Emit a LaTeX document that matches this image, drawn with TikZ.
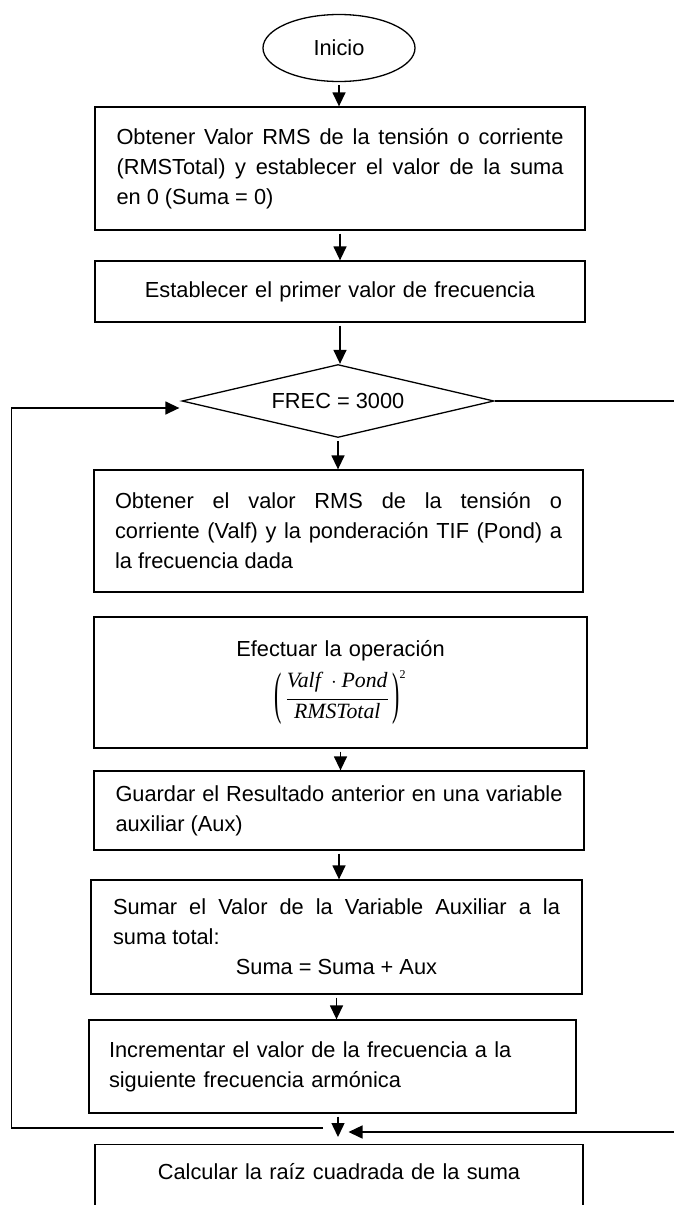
\documentclass[tikz,border=0pt]{standalone}
\usepackage{graphicx}
\usepackage[no-math]{fontspec}
\setmainfont{Liberation Sans}
\newfontfamily\timesfont{Liberation Serif}
\usetikzlibrary{shapes.geometric,arrows.meta,calc}
\hyphenpenalty=10000
\newcommand{\tvar}[1]{\mbox{\timesfont\itshape #1}}
\newcommand{\paren}[1]{\vcenter{\hbox{\scalebox{1}[2.63]{\timesfont #1}}}}

\begin{document}
\begin{tikzpicture}[x=1pt,y=-1pt,font=\fontsize{21.8}{30}\selectfont,
  caja/.style={draw,line width=1.3pt,inner sep=0pt,text width=447pt},
  flecha/.style={line width=1.4pt,-{Triangle[length=14pt,width=13pt]},shorten <=3pt}]
\useasboundingbox (0,0) rectangle (673,1205);
\node[draw,ellipse,line width=1.3pt,inner sep=0pt,minimum width=152pt,minimum height=67pt] (inicio) at (339,48) {Inicio};
\node[caja,align=justify,minimum width=490pt,minimum height=123pt] (obtener) at (340,168.5)
  {Obtener Valor RMS de la tensión o corriente\linebreak (RMSTotal) y establecer el valor de la suma\linebreak en 0 (Suma = 0)};
\node[caja,align=center,minimum width=490pt,minimum height=61pt] (primero) at (340,291.5)
  {Establecer el primer valor de frecuencia};
\node[draw,diamond,aspect=4.27,line width=1.3pt,inner sep=0pt,minimum width=312pt,minimum height=73pt] (frec) at (338,401) {FREC = 3000};
\node[caja,align=justify,minimum width=489pt,minimum height=122pt] (valor) at (338.5,531)
  {Obtener el valor RMS de la tensión o\linebreak corriente (Valf) y la ponderación TIF (Pond) a\linebreak la frecuencia dada};
\node[caja,align=center,minimum width=493pt,minimum height=131pt] (efectuar) at (340.5,682.5)
  {Efectuar la operación\\[9pt]
   $\displaystyle\paren{(}\,\frac{\tvar{Valf}\;\cdot\tvar{Pond}\rule[-10pt]{0pt}{10pt}}{\tvar{RMSTotal}}\,\paren{)}^{\mbox{\timesfont\fontsize{12}{12}\selectfont 2}}$};
\node[caja,align=justify,minimum width=490pt,minimum height=79pt] (guardar) at (339,810.5)
  {Guardar el Resultado anterior en una variable\linebreak auxiliar (Aux)};
\node[caja,align=justify,minimum width=491pt,minimum height=114pt] (sumar) at (336.5,937)
  {Sumar el Valor de la Variable Auxiliar a la\linebreak suma total:\\\makebox[\hsize]{Suma = Suma + Aux}};
\node[caja,align=left,minimum width=487pt,minimum height=93pt] (incrementar) at (332.5,1066.5)
  {Incrementar el valor de la frecuencia a la\\siguiente frecuencia armónica};
\node[caja,align=center,anchor=north,minimum width=488pt,text height=35pt,text depth=60pt] (calcular) at (339,1144)
  {Calcular la raíz cuadrada de la suma};
\foreach \a/\b in {inicio/obtener,obtener/primero,primero/frec,frec/valor,
  efectuar/guardar,guardar/sumar,sumar/incrementar}
  \draw[flecha] (\a.south) -- (\a.south |- \b.north);
\coordinate (baja) at (338,1137);
\coordinate (union) at (348.5,1132);
\coordinate (vuelta) at (323,1128);
\coordinate (izq) at (11.6,0);
\coordinate (der) at (700,0);
\coordinate (entrada) at ($(frec.west)+(-2,7)$);
\draw[flecha] (incrementar.south -| baja) -- (baja);
\draw[flecha,shorten <=0pt] (frec.east) -- (frec.east -| der) -- (der |- union) -- (union);
\draw[flecha,shorten <=0pt] (vuelta) -- (vuelta -| izq) -- (izq |- entrada) -- (entrada);
\end{tikzpicture}
\end{document}
